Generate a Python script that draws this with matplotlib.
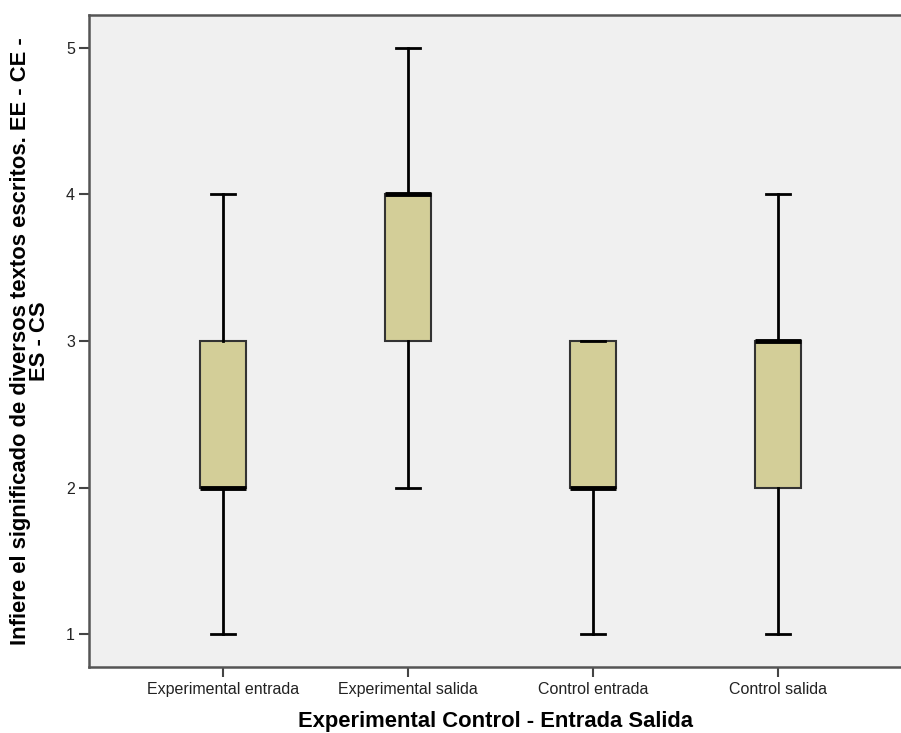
import matplotlib.pyplot as plt

plt.rcParams['font.family'] = ['Liberation Sans', 'DejaVu Sans']

# Five-number summaries per group (min, Q1, median, Q3, max)
groups = ['Experimental entrada', 'Experimental salida', 'Control entrada', 'Control salida']
mins = [1, 2, 1, 1]
q1s = [2, 3, 2, 2]
medians = [2, 4, 2, 3]
q3s = [3, 4, 3, 3]
maxs = [4, 5, 3, 4]

stats = []
for g, lo, a, m, b, hi in zip(groups, mins, q1s, medians, q3s, maxs):
    stats.append({'label': g, 'whislo': lo, 'q1': a, 'med': m, 'q3': b,
                  'whishi': hi, 'fliers': []})

fig = plt.figure(figsize=(9.01, 7.33), dpi=100)
ax = fig.add_axes([89 / 901, 66 / 733, 1 - 89 / 901, (667 - 15) / 733])
ax.set_facecolor('#F0F0F0')

ax.bxp(stats, positions=[1, 2, 3, 4], widths=0.25, capwidths=0.125,
       patch_artist=True, showfliers=False,
       boxprops=dict(facecolor='#D3CE98', edgecolor='#333333', linewidth=1.5),
       whiskerprops=dict(color='black', linewidth=2),
       capprops=dict(color='black', linewidth=2),
       medianprops=dict(color='black', linewidth=3.5, solid_capstyle='butt'))

ax.set_xlim(0.276, 4.665)
ax.set_ylim(0.775, 5.225)
ax.set_yticks([1, 2, 3, 4, 5])

for side in ['left', 'bottom', 'top']:
    ax.spines[side].set_color('#555555')
    ax.spines[side].set_linewidth(1.8)
ax.spines['right'].set_visible(False)

ax.tick_params(axis='both', direction='out', length=7, width=1.5,
               color='#444444', labelsize=11.5, labelcolor='#222222')
ax.tick_params(axis='y', pad=3)
ax.tick_params(axis='x', pad=4)

ax.set_xlabel('Experimental Control - Entrada Salida', fontsize=15.8,
              fontweight='bold', labelpad=10)
ax.set_ylabel('Infiere el significado de diversos textos escritos. EE - CE -\nES - CS',
              fontsize=15.8, fontweight='bold', linespacing=0.85)
ax.yaxis.label.set_va('center')
ax.yaxis.set_label_coords(-0.073, 0.5)

fig.savefig('out.png', dpi=100)
